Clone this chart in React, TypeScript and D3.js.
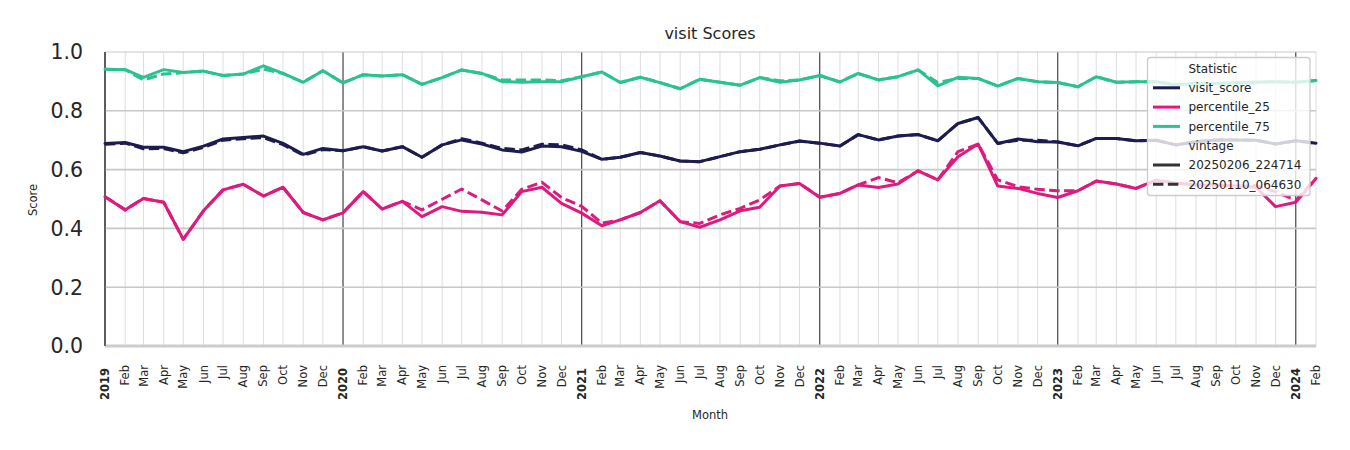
import React from "react";
import * as d3 from "d3";

const startYear = 2019;
const monthCount = 62; // Jan 2019 .. Feb 2024
const monthNames = ["Jan","Feb","Mar","Apr","May","Jun","Jul","Aug","Sep","Oct","Nov","Dec"];
const yTicks = [0, 0.2, 0.4, 0.6, 0.8, 1.0];

const visitSolid = [
  0.689, 0.692, 0.676, 0.676, 0.661, 0.680, 0.704, 0.709, 0.714, 0.689, 0.652, 0.672,
  0.664, 0.678, 0.663, 0.678, 0.642, 0.684, 0.701, 0.687, 0.667, 0.660, 0.680, 0.678,
  0.662, 0.635, 0.642, 0.658, 0.646, 0.629, 0.627, 0.644, 0.661, 0.669, 0.684, 0.697,
  0.690, 0.680, 0.719, 0.701, 0.714, 0.719, 0.698, 0.757, 0.777, 0.689, 0.704, 0.695,
  0.694, 0.681, 0.706, 0.706, 0.698, 0.700, 0.684, 0.695, 0.701, 0.701, 0.700, 0.687,
  0.698, 0.690,
];
const visitDashed = [
  0.686, 0.690, 0.671, 0.672, 0.657, 0.676, 0.700, 0.705, 0.709, 0.685, 0.649, 0.668,
  0.664, 0.678, 0.663, 0.678, 0.642, 0.684, 0.705, 0.690, 0.672, 0.667, 0.686, 0.684,
  0.667, 0.635, 0.642, 0.658, 0.646, 0.629, 0.627, 0.644, 0.661, 0.669, 0.684, 0.697,
  0.690, 0.680, 0.719, 0.701, 0.714, 0.719, 0.698, 0.757, 0.777, 0.689, 0.700, 0.700,
  0.694, 0.681, 0.706, 0.706, 0.698, 0.700, 0.684, 0.695, 0.701, 0.701, 0.700, 0.687,
  0.698, 0.690,
];
const p25Solid = [
  0.508, 0.463, 0.502, 0.489, 0.363, 0.460, 0.531, 0.550, 0.510, 0.540, 0.454, 0.429,
  0.453, 0.525, 0.466, 0.492, 0.440, 0.474, 0.458, 0.455, 0.446, 0.525, 0.540, 0.485,
  0.452, 0.409, 0.429, 0.454, 0.494, 0.423, 0.404, 0.429, 0.460, 0.472, 0.544, 0.553,
  0.506, 0.519, 0.548, 0.539, 0.551, 0.596, 0.565, 0.644, 0.687, 0.544, 0.536, 0.519,
  0.505, 0.528, 0.561, 0.551, 0.536, 0.564, 0.554, 0.548, 0.548, 0.544, 0.540, 0.474,
  0.489, 0.570,
];
const p25Dashed = [
  0.508, 0.463, 0.502, 0.489, 0.363, 0.460, 0.531, 0.550, 0.510, 0.540, 0.454, 0.429,
  0.453, 0.525, 0.466, 0.492, 0.463, 0.499, 0.534, 0.497, 0.459, 0.533, 0.557, 0.505,
  0.475, 0.418, 0.429, 0.454, 0.494, 0.423, 0.417, 0.446, 0.468, 0.497, 0.544, 0.553,
  0.506, 0.519, 0.548, 0.573, 0.555, 0.596, 0.565, 0.661, 0.687, 0.565, 0.542, 0.533,
  0.528, 0.528, 0.561, 0.551, 0.536, 0.564, 0.554, 0.548, 0.548, 0.544, 0.545, 0.525,
  0.495, 0.570,
];
const p75Solid = [
  0.941, 0.940, 0.914, 0.940, 0.930, 0.935, 0.920, 0.925, 0.953, 0.927, 0.897, 0.936,
  0.895, 0.923, 0.918, 0.923, 0.890, 0.913, 0.939, 0.927, 0.899, 0.897, 0.899, 0.899,
  0.916, 0.932, 0.896, 0.914, 0.896, 0.875, 0.907, 0.897, 0.887, 0.913, 0.897, 0.905,
  0.920, 0.898, 0.927, 0.905, 0.916, 0.939, 0.885, 0.914, 0.910, 0.884, 0.910, 0.899,
  0.896, 0.882, 0.916, 0.897, 0.899, 0.899, 0.888, 0.893, 0.893, 0.895, 0.897, 0.899,
  0.897, 0.903,
];
const p75Dashed = [
  0.941, 0.940, 0.905, 0.925, 0.930, 0.935, 0.920, 0.925, 0.942, 0.927, 0.897, 0.936,
  0.895, 0.923, 0.918, 0.923, 0.890, 0.913, 0.939, 0.927, 0.905, 0.905, 0.905, 0.902,
  0.916, 0.932, 0.896, 0.914, 0.896, 0.875, 0.907, 0.897, 0.887, 0.913, 0.902, 0.905,
  0.920, 0.898, 0.927, 0.905, 0.916, 0.939, 0.896, 0.910, 0.910, 0.884, 0.910, 0.899,
  0.896, 0.882, 0.916, 0.897, 0.899, 0.899, 0.888, 0.893, 0.893, 0.895, 0.897, 0.899,
  0.897, 0.903,
];

const statNames = ["visit_score", "percentile_25", "percentile_75"];
const statColors = ["#1c1c50", "#dd1a7e", "#2ac38e"];
const vintageNames = ["20250206_224714", "20250110_064630"];

const months = d3.range(monthCount).map((i) => new Date(Date.UTC(startYear, i, 1)));

export default function App() {
  const W = 1350, H = 450;
  const left = 105, right = 1316, top = 52, bottom = 346;
  const x = d3.scaleUtc().domain([months[0], months[monthCount - 1]]).range([left, right]);
  const y = d3.scaleLinear().domain([0, 1]).range([bottom, top]);
  const line = d3.line<number>().x((_, i) => x(months[i])).y((v) => y(v));

  const series = [
    { vals: p75Solid, color: statColors[2], dashed: false },
    { vals: p75Dashed, color: statColors[2], dashed: true },
    { vals: visitSolid, color: statColors[0], dashed: false },
    { vals: visitDashed, color: statColors[0], dashed: true },
    { vals: p25Solid, color: statColors[1], dashed: false },
    { vals: p25Dashed, color: statColors[1], dashed: true },
  ];
  const font = "DejaVu Sans, sans-serif";
  const dash = "10.4 4.5";
  const lw = 3;

  const legX = 1147.5, legY = 57.5, legW = 162.5, legH = 138;
  const rowH = 19.3;
  const legRows: { label: string; color?: string; dashed?: boolean }[] = [
    { label: "Statistic" },
    { label: statNames[0], color: statColors[0] },
    { label: statNames[1], color: statColors[1] },
    { label: statNames[2], color: statColors[2] },
    { label: "vintage" },
    { label: vintageNames[0], color: "#333333" },
    { label: vintageNames[1], color: "#333333", dashed: true },
  ];

  return (
    <svg width={W} height={H} style={{ position: "absolute", left: 0, top: 0, background: "#fff" }} fontFamily={font}>
      {/* month grid */}
      {months.map((m, i) => {
        const isYear = m.getUTCMonth() === 0;
        return (
          <line key={"vg" + i} x1={x(m)} x2={x(m)} y1={top} y2={bottom}
            stroke={isYear ? "#333333" : "#dedede"} strokeWidth={isYear ? 1.1 : 1} />
        );
      })}
      {/* horizontal grid */}
      {yTicks.filter((t) => t > 0).map((t) => (
        <line key={"hg" + t} x1={left} x2={right} y1={y(t)} y2={y(t)} stroke="#c8c8c8" strokeWidth={t === 1 ? 1 : 1.6} />
      ))}
      {/* spines */}
      <line x1={left} x2={right} y1={bottom} y2={bottom} stroke="#cccccc" strokeWidth={3} />
      <line x1={left} x2={left} y1={top} y2={bottom} stroke="#333333" strokeWidth={1.1} />

      {/* lines */}
      {series.map((s, i) => (
        <path key={"s" + i} d={line(s.vals) || ""} fill="none" stroke={s.color} strokeWidth={lw}
          strokeDasharray={s.dashed ? dash : undefined} strokeLinejoin="round" strokeLinecap={s.dashed ? "butt" : "round"} />
      ))}

      {/* y ticks */}
      {yTicks.map((t) => (
        <text key={"yt" + t} x={83} y={y(t)} dy="0.36em" textAnchor="end" fontSize={20.5} fill="#262626">
          {t.toFixed(1)}
        </text>
      ))}
      <text transform={`translate(33,200) rotate(-90)`} textAnchor="middle" dy="0.35em" fontSize={11.5} fill="#262626">Score</text>

      {/* x ticks */}
      {months.map((m, i) => {
        const isYear = m.getUTCMonth() === 0;
        const label = isYear ? String(m.getUTCFullYear()) : monthNames[m.getUTCMonth()];
        return (
          <text key={"xt" + i} transform={`translate(${x(m)},${isYear ? 368 : 365}) rotate(-90)`}
            textAnchor="end" dy="0.35em" fontSize={11.5} fontWeight={isYear ? "bold" : "normal"} fill="#262626">
            {label}
          </text>
        );
      })}
      <text x={710} y={415} dy="0.35em" textAnchor="middle" fontSize={11.5} fill="#262626">Month</text>

      <text x={710} y={33} dy="0.35em" textAnchor="middle" fontSize={16} fill="#262626">visit Scores</text>

      {/* legend */}
      <rect x={legX} y={legY} width={legW} height={legH} rx={3} fill="#ffffff" fillOpacity={0.8} stroke="#cccccc" strokeWidth={1.3} />
      {legRows.map((r, i) => {
        const cy = 68.5 + i * rowH;
        return (
          <g key={"lg" + i}>
            {r.color && (
              <line x1={1153} x2={1180} y1={cy} y2={cy} stroke={r.color} strokeWidth={lw}
                strokeDasharray={r.dashed ? dash : undefined} />
            )}
            <text x={1188.5} y={cy} dy="0.35em" fontSize={12} fill="#262626">{r.label}</text>
          </g>
        );
      })}
    </svg>
  );
}
